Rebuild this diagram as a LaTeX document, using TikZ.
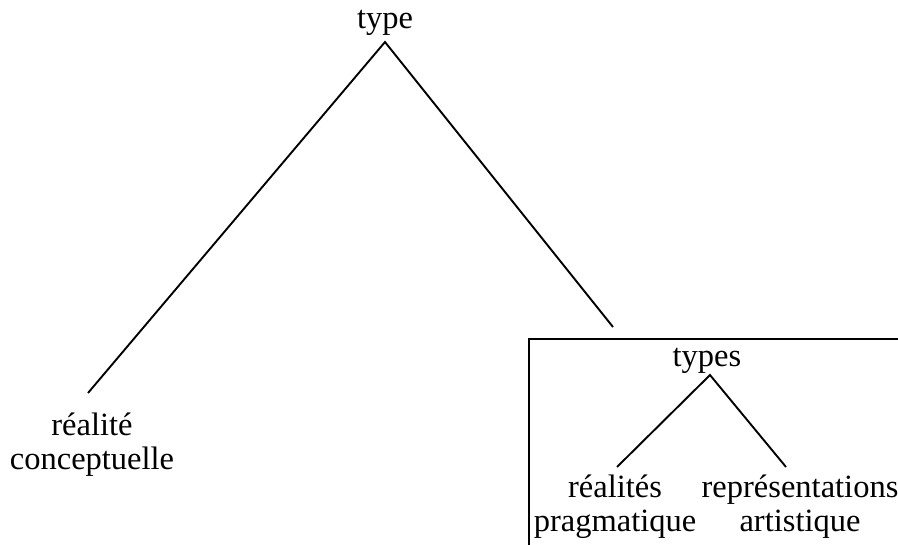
\documentclass[tikz,border=0pt]{standalone}
\usepackage{fontspec}
\setmainfont{Liberation Serif}
\begin{document}
\begin{tikzpicture}[x=1pt,y=-1pt,
  lbl/.style={inner sep=0pt,align=center,anchor=base,font=\fontsize{32.5}{34}\selectfont},
  edge/.style={line width=1.9pt}]
\useasboundingbox (0,0) rectangle (898,545);
% labels
\node[lbl] (root) at (385,29) {type};
\node[lbl] (conc) at (92,470) {réalité\\conceptuelle};
\node[lbl] (sub) at (707,367) {types};
\node[lbl] (prag) at (615,532) {réalités\\pragmatique};
\node[lbl] (art) at (800,532) {représentations\\artistique};
% connector end points
\coordinate (rootapex) at (385,42);
\coordinate (rootL) at (88,393);
\coordinate (rootR) at (613,327);
\coordinate (subapex) at (710,375);
\coordinate (subL) at (617,467);
\coordinate (subR) at (786,467);
\coordinate (boxTR) at (898,339);
\coordinate (boxTL) at (529,339);
\coordinate (boxBL) at (529,545);
\draw[edge] (rootL) -- (rootapex) -- (rootR);
\draw[edge] (subL) -- (subapex) -- (subR);
\draw[edge] (boxTR) -- (boxTL) -- (boxBL);
\end{tikzpicture}
\end{document}
